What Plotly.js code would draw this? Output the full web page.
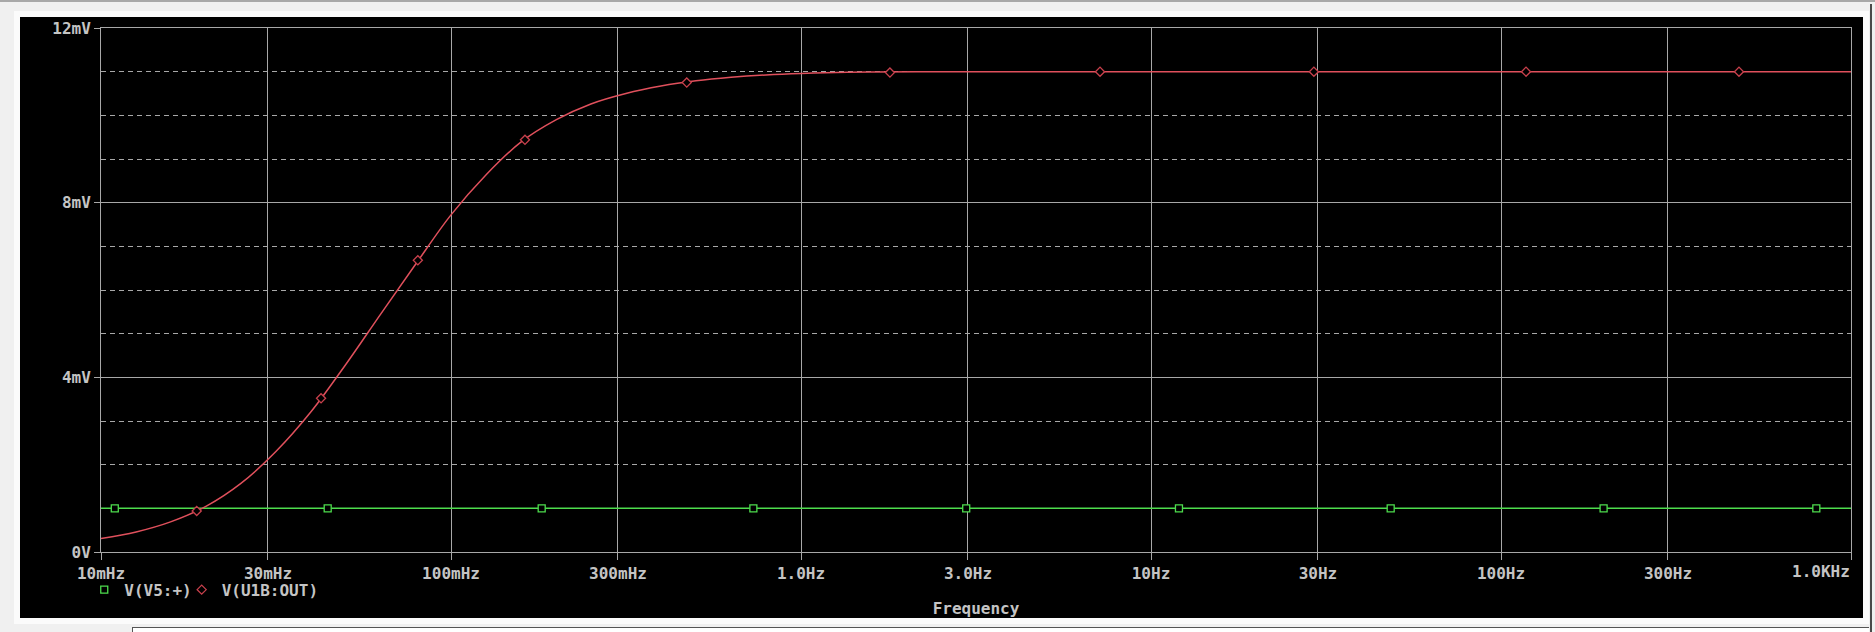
<!DOCTYPE html>
<html>
<head>
<meta charset="utf-8">
<script src="https://cdn.plot.ly/plotly-3.0.1.min.js"></script>
<style>
  html, body { margin:0; padding:0; width:1875px; height:632px; overflow:hidden; background:#f0f0f0; }
  #topline { position:absolute; left:0; top:0; width:1875px; height:2px; background:#a8a8a8; }
  #frame { position:absolute; left:14px; top:11px; width:1855px; height:613px; background:#fbfbfb; }
  #chart { position:absolute; left:20px; top:17px; width:1843px; height:601px; background:#000; }
  #rborder { position:absolute; left:1870px; top:4px; width:2px; height:628px; background:#4a4a4a; }
  #bbox { position:absolute; left:132px; top:627px; width:1736px; height:10px; background:#fff; border-top:1px solid #555; border-left:1px solid #555; }
</style>
</head>
<body>
<div id="topline"></div>
<div id="frame"></div>
<div id="chart"></div>
<div id="rborder"></div>
<div id="bbox"></div>
<script>
// ---- data ----
// V(U1B:OUT) curve: frequency in Hz, voltage in mV
const freqOut = [0.01, 0.0126, 0.0158, 0.0200, 0.0251, 0.0316, 0.0398, 0.0501, 0.0631, 0.0794, 0.100, 0.126, 0.158, 0.200, 0.251, 0.316, 0.398, 0.501, 0.631, 0.794, 1.0, 1.26, 1.58, 2.51, 3.98, 10, 100, 1000];
const voltOut = [0.31, 0.46, 0.69, 1.05, 1.57, 2.30, 3.21, 4.30, 5.46, 6.60, 7.72, 8.64, 9.38, 9.90, 10.26, 10.50, 10.67, 10.79, 10.87, 10.925, 10.96, 10.98, 10.99, 11.0, 11.0, 11.0, 11.0, 11.0];
// V(V5:+) curve
const freqIn = [0.01, 1000];
const voltIn = [1.0, 1.0];
// marker positions drawn along each trace
const markFreqIn = [0.01095, 0.04443, 0.1816, 0.731, 2.965, 12.02, 48.4, 196.4, 796];
const markVoltIn = [1.0, 1.0, 1.0, 1.0, 1.0, 1.0, 1.0, 1.0, 1.0];
const markFreqOut = [0.01877, 0.04253, 0.0804, 0.1627, 0.4716, 1.795, 7.15, 29.2, 117.9, 478.6];
const markVoltOut = [0.94, 3.52, 6.68, 9.44, 10.75, 10.98, 11.0, 11.0, 11.0, 11.0];
// axis ticks
const xTickVals = [0.01, 0.03, 0.1, 0.3, 1, 3, 10, 30, 100, 300, 1000];
const xTickText = ['10mHz', '30mHz', '100mHz', '300mHz', '1.0Hz', '3.0Hz', '10Hz', '30Hz', '100Hz', '300Hz', '1.0KHz'];
const yTickVals = [0, 4, 8, 12];
const yTickText = ['0V', '4mV', '8mV', '12mV'];
const legendNames = ['V(V5:+)', 'V(U1B:OUT)'];

const green = '#4ddc4d';
const red = '#e0505c';
const gridCol = '#a8a8a8';
const txtCol = '#c4c4c4';
const mono = 'DejaVu Sans Mono, monospace';
const tf = {family: mono, size: 16, color: txtCol, weight: 'bold'};

const traces = [
  { x: freqIn, y: voltIn, mode: 'lines', line: {color: green, width: 1.5}, showlegend: false, hoverinfo: 'skip' },
  { x: freqOut, y: voltOut, mode: 'lines', line: {color: red, width: 1.5, shape: 'spline', smoothing: 1}, showlegend: false, hoverinfo: 'skip' },
  { x: markFreqIn, y: markVoltIn, mode: 'markers', name: legendNames[0],
    marker: {symbol: 'square', size: 7, color: '#000', line: {color: green, width: 1.3}} },
  { x: markFreqOut, y: markVoltOut, mode: 'markers', name: legendNames[1],
    marker: {symbol: 'diamond', size: 7, color: '#000', line: {color: '#c8404c', width: 1.3}} }
];

// last x tick label is drawn right-aligned to the axis end (as in the reference)
const nTick = xTickVals.length;
const shownTickText = xTickText.map((t, i) => (i === nTick - 1 ? '' : t));

const layout = {
  width: 1843, height: 601,
  paper_bgcolor: '#000', plot_bgcolor: '#000',
  margin: {l: 81, r: 12, t: 11, b: 64},
  font: tf,
  xaxis: {
    type: 'log', range: [-2, 3.00001],
    tickmode: 'array', tickvals: xTickVals, ticktext: shownTickText,
    ticks: 'outside', ticklen: 7, tickcolor: gridCol, tickwidth: 1,
    showgrid: true, gridcolor: gridCol, gridwidth: 1,
    showline: true, linecolor: gridCol, linewidth: 1, mirror: true,
    zeroline: false,
    tickfont: tf,
    title: {text: 'Frequency', font: tf, standoff: 31}
  },
  yaxis: {
    range: [0, 12],
    tickmode: 'array', tickvals: yTickVals, ticktext: yTickText,
    ticks: 'outside', ticklen: 6, tickcolor: gridCol, tickwidth: 1,
    showgrid: true, gridcolor: gridCol, gridwidth: 1,
    showline: true, linecolor: gridCol, linewidth: 1, mirror: true,
    zeroline: false,
    tickfont: tf,
    minor: {dtick: 1, showgrid: true, gridcolor: gridCol, griddash: '5px,4px', gridwidth: 1, ticks: ''}
  },
  annotations: [{
    x: Math.log10(xTickVals[nTick - 1]), xref: 'x', xanchor: 'right',
    y: 0, yref: 'paper', yanchor: 'middle', yshift: -19,
    text: xTickText[nTick - 1], showarrow: false, font: tf, borderpad: 0
  }],
  showlegend: true,
  legend: {orientation: 'h', x: -0.001, xanchor: 'left', y: -0.072, yanchor: 'middle',
    bgcolor: 'rgba(0,0,0,0)', font: tf, itemwidth: 30, tracegroupgap: 0, indentation: -15}
};

Plotly.newPlot('chart', traces, layout, {displayModeBar: false, staticPlot: true});
</script>
</body>
</html>
